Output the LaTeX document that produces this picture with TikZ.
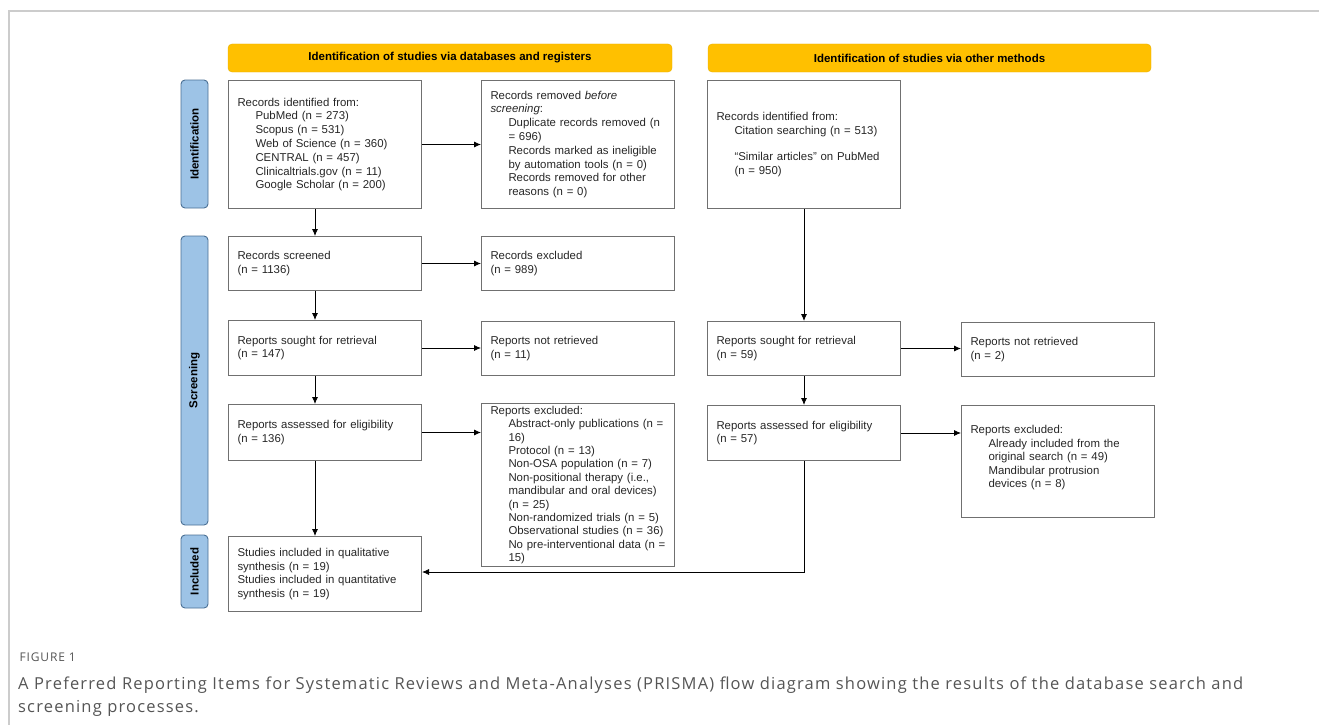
\documentclass[tikz,border=0pt]{standalone}
\usepackage{fontspec}
\setmainfont{Liberation Sans}
\newfontfamily\capfont[LetterSpace=7.2]{Open Sans}
\usepackage{tikz}
\usetikzlibrary{arrows.meta}

\definecolor{headyellow}{HTML}{FFC000}
\definecolor{headedge}{HTML}{E8B000}
\definecolor{phaseblue}{HTML}{9DC3E6}
\definecolor{phaseedge}{HTML}{4A6F94}
\definecolor{boxedge}{HTML}{707070}
\definecolor{capgray}{HTML}{555555}
\definecolor{framegray}{HTML}{CCCCCC}

\newcommand{\ind}{\hspace*{18pt}}

\begin{document}
\begin{tikzpicture}[x=1pt, y=-1pt,
	box/.style={draw=boxedge, line width=1pt, anchor=north west, inner xsep=9pt, inner ysep=0pt,
		text width=175pt, align=left, text=black!85, font=\fontsize{11.4}{13.8}\selectfont},
	header/.style={draw=headedge, fill=headyellow, rounded corners=4pt, minimum height=28pt,
		font=\bfseries\fontsize{11.5}{13}\selectfont},
	phase/.style={draw=phaseedge, fill=phaseblue, rounded corners=4pt, line width=0.9pt,
		minimum height=27pt, rotate=90, font=\bfseries\fontsize{11.5}{13}\selectfont},
	arr/.style={-{Latex[length=7pt,width=6pt]}, line width=0.8pt}]
	\useasboundingbox (0,0) rectangle (1319,725);

	% page frame
	\draw [framegray, line width=1.2pt] (9,725) -- (9,11) -- (1319,11);

	% headers
	\node (headdb) [header, minimum width=444pt] at (450,58) {Identification of studies via databases and registers};
	\node (headother) [header, minimum width=443pt] at (929.5,58) {Identification of studies via other methods};

	% phases
	\node (phid) [phase, minimum width=128pt] at (194.5,144) {Identification};
	\node (phscr) [phase, minimum width=289pt] at (194.5,380.5) {Screening};
	\node (phinc) [phase, minimum width=73pt] at (194.5,571.5) {Included};

	% databases and registers
	\node (recid) [box, minimum height=128pt] at (228,80) {Records identified from:\\
		\ind PubMed (n = 273)\\
		\ind Scopus (n = 531)\\
		\ind Web of Science (n = 360)\\
		\ind CENTRAL (n = 457)\\
		\ind Clinicaltrials.gov (n = 11)\\
		\ind Google Scholar (n = 200)};
	\node (recrem) [box, minimum height=128pt] at (481,80) {Records removed \textit{before}\\
		\textit{screening}:\\
		\ind Duplicate records removed (n\\
		\ind = 696)\\
		\ind Records marked as ineligible\\
		\ind by automation tools (n = 0)\\
		\ind Records removed for other\\
		\ind reasons (n = 0)};
	\node (recscr) [box, minimum height=54pt] at (228,236) {Records screened\\(n = 1136)};
	\node (recexc) [box, minimum height=54pt] at (481,236) {Records excluded\\(n = 989)};
	\node (repsought) [box, minimum height=55pt] at (228,320) {Reports sought for retrieval\\(n = 147)};
	\node (repnot) [box, minimum height=54pt] at (481,321) {Reports not retrieved\\(n = 11)};
	\node (repelig) [box, minimum height=56pt] at (228,404) {Reports assessed for eligibility\\(n = 136)};
	\node (repexc) [box, minimum height=163pt, font=\fontsize{11.4}{13.4}\selectfont] at (481,403) {Reports excluded:\\
		\ind Abstract-only publications (n =\\
		\ind 16)\\
		\ind Protocol (n = 13)\\
		\ind Non-OSA population (n = 7)\\
		\ind Non-positional therapy (i.e.,\\
		\ind mandibular and oral devices)\\
		\ind (n = 25)\\
		\ind Non-randomized trials (n = 5)\\
		\ind Observational studies (n = 36)\\
		\ind No pre-interventional data (n =\\
		\ind 15)};
	\node (incl) [box, minimum height=75pt] at (228,536) {Studies included in qualitative\\
		synthesis (n = 19)\\
		Studies included in quantitative\\
		synthesis (n = 19)};

	% other methods
	\node (othid) [box, minimum height=128pt] at (707,80) {Records identified from:\\
		\ind Citation searching (n = 513)\\[13pt]
		\ind ``Similar articles'' on PubMed\\
		\ind (n = 950)};
	\node (othsought) [box, minimum height=54pt] at (707,321) {Reports sought for retrieval\\(n = 59)};
	\node (othnot) [box, minimum height=54pt] at (961,322) {Reports not retrieved\\(n = 2)};
	\node (othelig) [box, minimum height=55pt] at (707,405) {Reports assessed for eligibility\\(n = 57)};
	\node (othexc) [box, minimum height=112pt, text depth=64pt, font=\fontsize{11.4}{13.5}\selectfont] at (961,405) {Reports excluded:\\
		\ind Already included from the\\
		\ind original search (n = 49)\\
		\ind Mandibular protrusion\\
		\ind devices (n = 8)};

	% arrows
	\draw [arr] ([xshift=-10pt]recid.south) -- ([xshift=-10pt]recscr.north);
	\draw [arr] ([xshift=-10pt]recscr.south) -- ([xshift=-10pt]repsought.north);
	\draw [arr] ([xshift=-10pt]repsought.south) -- ([xshift=-10pt]repelig.north);
	\draw [arr] ([xshift=-10pt]repelig.south) -- ([xshift=-10pt]incl.north);
	\draw [arr] (recid.east) -- (recrem.west);
	\draw [arr] (recscr.east) -- (recexc.west);
	\draw [arr] (repsought.east) -- (repsought.east -| repnot.west);
	\draw [arr] (repelig.east) -- (repelig.east -| repexc.west);
	\draw [arr] (othid.south) -- (othsought.north);
	\draw [arr] (othsought.south) -- (othelig.north);
	\draw [arr] (othsought.east) -- (othsought.east -| othnot.west);
	\draw [arr] (othelig.east) -- (othelig.east -| othexc.west);
	\draw [arr] (othelig.south) |- ([yshift=2pt]incl.east);

	% caption
	\node (figlabel) [anchor=west, text=capgray, font=\capfont\fontsize{12}{14}\selectfont] at (16,657) {FIGURE 1};
	\node (figcaption) [anchor=north west, align=left, text=capgray, inner sep=0pt,
		font=\capfont\fontsize{16.5}{23}\selectfont] at (18,677) {A Preferred Reporting Items for Systematic Reviews and Meta-Analyses (PRISMA) flow diagram showing the results of the database search and\\screening processes.};
\end{tikzpicture}
\end{document}
